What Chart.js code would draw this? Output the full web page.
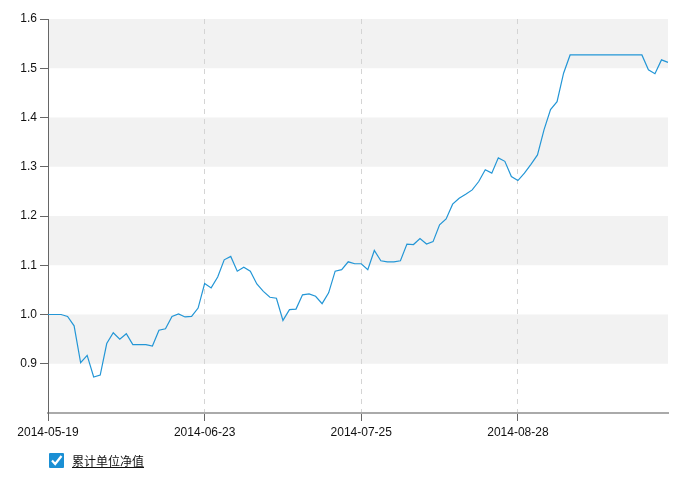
<!DOCTYPE html>
<html lang="zh-CN">
  <head>
    <meta charset="UTF-8" />
    <title>累计单位净值</title>
    <script src="https://cdn.jsdelivr.net/npm/chart.js"></script>
    <style>
      html, body { margin: 0; padding: 0; background: #fff; }
      #wrap { position: relative; width: 696px; height: 479px; }
      #legend {
        position: absolute; left: 49px; top: 452px;
        display: flex; align-items: center;
        font: 12px "Noto Sans CJK SC", "Liberation Sans", sans-serif; color: #111;
      }
      #legend .box {
        width: 15px; height: 15px; background: #1a8fd4; border-radius: 1px;
        display: inline-block; margin-right: 8px;
      }
      #legend span.txt { text-decoration: underline; }
    </style>
  </head>
  <body>
    <div id="wrap">
      <canvas id="navChart" width="696" height="479"></canvas>
      <div id="legend">
        <span class="box">
          <svg width="15" height="15" viewBox="0 0 15 15">
            <path d="M3 7.5 L6.2 11 L12.5 3" stroke="#fff" stroke-width="2.2" fill="none" />
          </svg>
        </span>
        <span class="txt">累计单位净值</span>
      </div>
    </div>

    <script>
      // 交易日
      const dates = [
        "2014-05-19","2014-05-20","2014-05-21","2014-05-22","2014-05-23",
        "2014-05-26","2014-05-27","2014-05-28","2014-05-29","2014-05-30",
        "2014-06-03","2014-06-04","2014-06-05","2014-06-06",
        "2014-06-09","2014-06-10","2014-06-11","2014-06-12","2014-06-13",
        "2014-06-16","2014-06-17","2014-06-18","2014-06-19","2014-06-20",
        "2014-06-23","2014-06-24","2014-06-25","2014-06-26","2014-06-27",
        "2014-06-30","2014-07-01","2014-07-02","2014-07-03","2014-07-04",
        "2014-07-07","2014-07-08","2014-07-09","2014-07-10","2014-07-11",
        "2014-07-14","2014-07-15","2014-07-16","2014-07-17","2014-07-18",
        "2014-07-21","2014-07-22","2014-07-23","2014-07-24","2014-07-25",
        "2014-07-28","2014-07-29","2014-07-30","2014-07-31","2014-08-01",
        "2014-08-04","2014-08-05","2014-08-06","2014-08-07","2014-08-08",
        "2014-08-11","2014-08-12","2014-08-13","2014-08-14","2014-08-15",
        "2014-08-18","2014-08-19","2014-08-20","2014-08-21","2014-08-22",
        "2014-08-25","2014-08-26","2014-08-27","2014-08-28","2014-08-29",
        "2014-09-01","2014-09-02","2014-09-03","2014-09-04","2014-09-05",
        "2014-09-09","2014-09-10","2014-09-11","2014-09-12",
        "2014-09-15","2014-09-16","2014-09-17","2014-09-18","2014-09-19",
        "2014-09-22","2014-09-23","2014-09-24","2014-09-25","2014-09-26",
        "2014-09-29","2014-09-30","2014-10-08"
      ];

      // 累计单位净值
      const navValues = [
        1.000, 1.000, 1.000, 0.996, 0.977,
        0.902, 0.917, 0.873, 0.877, 0.941,
        0.963, 0.950, 0.961, 0.939,
        0.939, 0.939, 0.936, 0.968, 0.971,
        0.996, 1.001, 0.995, 0.996, 1.013,
        1.063, 1.054, 1.076, 1.111, 1.118,
        1.088, 1.096, 1.088, 1.062, 1.047,
        1.035, 1.033, 0.988, 1.010, 1.011,
        1.040, 1.042, 1.037, 1.022, 1.044,
        1.088, 1.091, 1.107, 1.103, 1.103,
        1.091, 1.130, 1.109, 1.107, 1.107,
        1.109, 1.143, 1.142, 1.154, 1.143,
        1.148, 1.182, 1.194, 1.224, 1.236,
        1.244, 1.253, 1.270, 1.294, 1.287,
        1.318, 1.311, 1.280, 1.272, 1.287,
        1.305, 1.324, 1.375, 1.416, 1.432,
        1.490, 1.527, 1.527, 1.527,
        1.527, 1.527, 1.527, 1.527, 1.527,
        1.527, 1.527, 1.527, 1.527, 1.497,
        1.489, 1.517, 1.512
      ];

      // 显示的横轴标签
      const shownTicks = ["2014-05-19", "2014-06-23", "2014-07-25", "2014-08-28"];

      // 纵轴刻度
      const yMin = 0.8, yMax = 1.6, yStep = 0.1;

      // 灰色条带
      const bands = [[0.9, 1.0], [1.1, 1.2], [1.3, 1.4], [1.5, 1.6]];

      const isShown = (i) => shownTicks.includes(dates[i]);

      const bandPlugin = {
        id: "bands",
        beforeDraw(chart) {
          const { ctx, chartArea, scales } = chart;
          ctx.save();
          ctx.fillStyle = "#f2f2f2";
          bands.forEach(([a, b]) => {
            const y1 = scales.y.getPixelForValue(b);
            const y2 = scales.y.getPixelForValue(a);
            ctx.fillRect(chartArea.left, y1, chartArea.right - chartArea.left, y2 - y1);
          });
          ctx.restore();
        },
      };

      const font = { family: "'Liberation Sans', Arial, sans-serif", size: 12 };

      new Chart(document.getElementById("navChart"), {
        type: "line",
        data: {
          labels: dates,
          datasets: [
            {
              label: "累计单位净值",
              data: navValues,
              borderColor: "#2396d6",
              borderWidth: 1.2,
              pointRadius: 0,
              tension: 0,
              fill: false,
            },
          ],
        },
        options: {
          responsive: false,
          animation: false,
          layout: { padding: { left: 0, right: 28, top: 19, bottom: 40 } },
          plugins: { legend: { display: false }, tooltip: { enabled: false } },
          scales: {
            x: {
              afterFit: (s) => { s.height = 26; },
              border: { color: "#aaaaaa", width: 2, dash: [5, 5] },
              grid: {
                color: (c) => (c.index > 0 && isShown(c.index) ? "#d4d4d4" : "transparent"),
                tickColor: (c) => (isShown(c.index) ? "#666" : "transparent"),
                tickLength: 8,
                tickBorderDash: [],
              },
              ticks: {
                autoSkip: false,
                maxRotation: 0,
                padding: 4,
                color: "#111",
                font: font,
                callback: (v, i) => (isShown(i) ? dates[i] : ""),
              },
            },
            y: {
              min: yMin,
              max: yMax,
              afterFit: (s) => { s.width = 48; },
              border: { color: "#666", width: 1 },
              grid: {
                drawOnChartArea: false,
                tickLength: 8,
                tickColor: (c) => (c.tick && c.tick.value > yMin + 0.001 ? "#666" : "transparent"),
              },
              ticks: {
                stepSize: yStep,
                padding: 3,
                color: "#111",
                font: font,
                callback: (v) => (v > yMin + 0.001 ? v.toFixed(1) : ""),
              },
            },
          },
        },
        plugins: [bandPlugin],
      });
    </script>
  </body>
</html>
